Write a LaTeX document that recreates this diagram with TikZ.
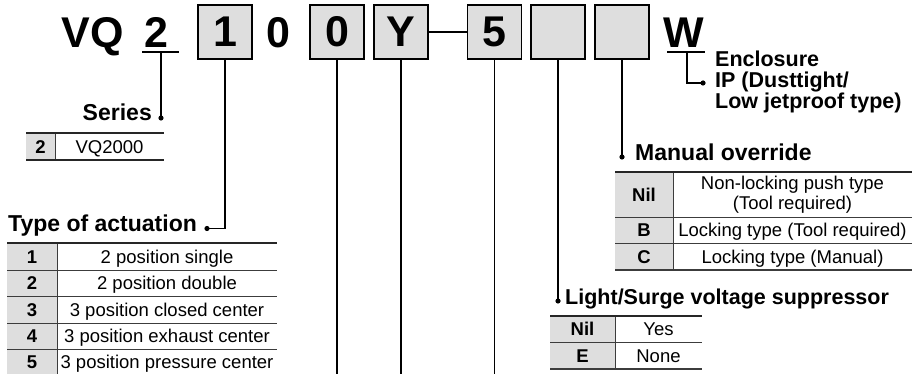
\documentclass[tikz,border=0pt]{standalone}
\usepackage{fontspec}
\setmainfont{Liberation Sans}
\definecolor{boxgrey}{RGB}{222,222,222}
\definecolor{linegrey}{RGB}{60,60,60}
\newcommand\pnBig{\fontsize{43}{43}\selectfont\bfseries}
\newcommand\pnHead{\fontsize{23}{20}\selectfont\bfseries}
\newcommand\pnHeadS{\fontsize{21.5}{20}\selectfont\bfseries}
\newcommand\pnCell{\fontsize{18.5}{17}\selectfont}
\newcommand\pnKey{\fontsize{18.5}{17}\selectfont\bfseries}
\begin{document}
\begin{tikzpicture}[x=1pt,y=-1pt,
  codebox/.style={draw=black,line width=1.4pt,fill=boxgrey,minimum width=54pt,minimum height=54pt,inner sep=0pt,font=\pnBig},
  bigtext/.style={anchor=base,inner sep=0pt,font=\pnBig},
  heading/.style={inner sep=0pt,font=\pnHead},
  headsmall/.style={inner sep=0pt,font=\pnHeadS},
  cell/.style={anchor=base,inner sep=0pt,font=\pnCell},
  keycell/.style={anchor=base,inner sep=0pt,font=\pnKey},
  conn/.style={draw=black,line width=1.3pt},
  topline/.style={draw=black!85,line width=1.8pt},
  rowline/.style={draw=linegrey,line width=0.9pt},
  dotmark/.style={fill=black}]
\useasboundingbox (0,0) rectangle (922,374);

% ---- code row ----
\node[bigtext] (vq) at (92.5,48) {VQ};
\node[bigtext] (two) at (156.5,48) {2};
\node[codebox] (b1) at (225,32) {1};
\node[bigtext] (zero) at (278.5,48) {0};
\node[codebox] (b0) at (337,32) {0};
\node[codebox] (bY) at (401,32) {Y};
\node[codebox] (b5) at (494.5,32) {5};
\node[codebox] (bA) at (558,32) {};
\node[codebox] (bB) at (622,32) {};
\node[bigtext] (w) at (683.5,48) {W};

% underlines
\coordinate (u2a) at (142,52); \coordinate (u2b) at (179,52);
\draw[conn] (u2a) -- (u2b);
\coordinate (uwa) at (667,52); \coordinate (uwb) at (705,52);
\draw[conn] (uwa) -- (uwb);

% Y -- 5 link
\draw[conn] (bY.east) -- (b5.west);

% ---- connectors ----
\coordinate (serTop) at (161,52);
\coordinate (serDot) at (161,118);
\draw[conn] (serTop) -- (serDot);
\fill[dotmark] (serDot) circle (2.6);

\coordinate (actCorner) at (225,228.5);
\coordinate (actDot) at (207,228.5);
\draw[conn] (b1.south) -- (actCorner) -- (actDot);
\fill[dotmark] (actDot) circle (2.6);

\coordinate (end0) at (337,376);
\coordinate (endY) at (401,376);
\coordinate (end5) at (494.5,376);
\draw[conn] (b0.south) -- (end0);
\draw[conn] (bY.south) -- (endY);
\draw[conn] (b5.south) -- (end5);

\coordinate (lightDot) at (558,301);
\draw[conn] (bA.south) -- (lightDot);
\fill[dotmark] (lightDot) circle (2.6);

\coordinate (manDot) at (622,157);
\draw[conn] (bB.south) -- (manDot);
\fill[dotmark] (manDot) circle (2.6);

\coordinate (encTop) at (687,52);
\coordinate (encCorner) at (687,83);
\coordinate (encDot) at (703,83);
\draw[conn] (encTop) -- (encCorner) -- (encDot);
\fill[dotmark] (encDot) circle (2.6);

% ---- headings ----
\node[heading,anchor=base east] (hSeries) at (152,121) {Series};
\node[heading,anchor=base west] (hAct) at (8,231.5) {Type of actuation};
\node[heading,anchor=base west] (hMan) at (635,161) {Manual override};
\node[headsmall,anchor=base west] (hLight) at (565,305) {Light/Surge voltage suppressor};
\node[headsmall,anchor=base west] (hEnc1) at (715,67) {Enclosure};
\node[headsmall,anchor=base west] (hEnc2) at (715,88) {IP (Dusttight/};
\node[headsmall,anchor=base west] (hEnc3) at (715,109) {Low jetproof type)};

% ---- Series table ----
\fill[boxgrey] (26,133) rectangle (55,160);
\draw[rowline] (55,133) -- (55,160);
\draw[topline] (26,133) -- (164,133);
\draw[topline,line width=1.4pt] (26,160) -- (164,160);
\node[keycell] (s2k) at (40.5,153.2) {2};
\node[cell] (s2v) at (109.5,153.2) {VQ2000};

% ---- Type of actuation table ----
\fill[boxgrey] (7,243) rectangle (57,374);
\draw[rowline] (57,243) -- (57,374);
\foreach \yy in {270,296.5,323,349.5} \draw[rowline] (7,\yy) -- (277,\yy);
\draw[topline] (7,243) -- (277,243);
\node[keycell] (a1k) at (32,263.1) {1};
\node[cell] (a1v) at (167,263.1) {2 position single};
\node[keycell] (a2k) at (32,289.6) {2};
\node[cell] (a2v) at (167,289.6) {2 position double};
\node[keycell] (a3k) at (32,316.1) {3};
\node[cell] (a3v) at (167,316.1) {3 position closed center};
\node[keycell] (a4k) at (32,342.6) {4};
\node[cell] (a4v) at (167,342.6) {3 position exhaust center};
\node[keycell] (a5k) at (32,368.6) {5};
\node[cell] (a5v) at (167,368.6) {3 position pressure center};

% ---- Manual override table ----
\fill[boxgrey] (615,172) rectangle (673,270);
\draw[rowline] (673,172) -- (673,270);
\draw[rowline] (615,217) -- (912,217);
\draw[rowline] (615,243) -- (912,243);
\draw[rowline,line width=1.2pt] (615,270) -- (912,270);
\draw[topline] (615,172) -- (912,172);
\node[keycell] (mNk) at (644,201.1) {Nil};
\node[cell] (mNv1) at (792.5,190) {Non-locking push type};
\node[cell] (mNv2) at (792.5,209.5) {(Tool required)};
\node[keycell] (mBk) at (644,236.6) {B};
\node[cell] (mBv) at (792.5,236.6) {Locking type (Tool required)};
\node[keycell] (mCk) at (644,263.1) {C};
\node[cell] (mCv) at (792.5,263.1) {Locking type (Manual)};

% ---- Light/Surge table ----
\fill[boxgrey] (550,316) rectangle (615,369);
\draw[rowline] (615,316) -- (615,369);
\draw[rowline] (550,342) -- (702,342);
\draw[rowline,line width=1.2pt] (550,369) -- (702,369);
\draw[topline] (550,316) -- (702,316);
\node[keycell] (lNk) at (582.5,335.6) {Nil};
\node[cell] (lNv) at (658.5,335.6) {Yes};
\node[keycell] (lEk) at (582.5,362.1) {E};
\node[cell] (lEv) at (658.5,362.1) {None};
\end{tikzpicture}
\end{document}
